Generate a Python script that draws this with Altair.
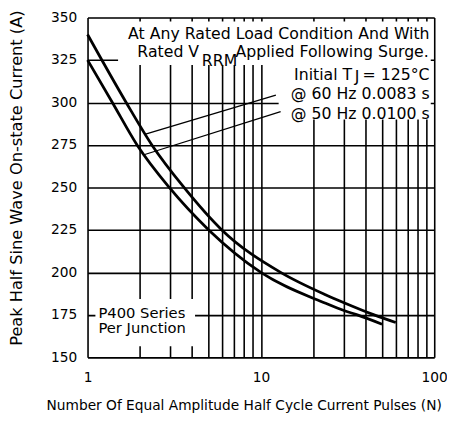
import altair as alt
import pandas as pd

# ---- data ----
pulses_60 = [1, 1.67, 2.35, 3.6, 5.95, 13, 23.4, 30.4, 45, 60]
current_60 = [340, 300, 275, 250, 225, 200, 187, 182, 175, 170.5]
pulses_50 = [1, 1.39, 1.93, 2.96, 5.0, 10, 23.4, 30.4, 36, 50]
current_50 = [325, 300, 275, 250, 225, 200, 182, 177.4, 175, 169.5]

x_grid = [1, 2, 3, 4, 5, 6, 7, 8, 9, 10, 20, 30, 40, 50, 60, 70, 80, 90, 100]
y_ticks = [150, 175, 200, 225, 250, 275, 300, 325, 350]

# annotation boxes (data coordinates)
box_x = [1.50, 12.66, 1.11]
box_x2 = [95.5, 95.5, 4.17]
box_y = [322.0, 290.0, 156.6]
box_y2 = [347.7, 322.0, 184.3]

# pointer lines from curves to labels
ptr_x = [2.16, 2.14]
ptr_y = [281.4, 269.4]
ptr_x2 = [12.2, 13.0]
ptr_y2 = [304.3, 294.6]

# texts (right-aligned anchors)
txt = ["At Any Rated Load Condition And With",
       "Applied Following Surge.", "RRM", "Rated V",
       "= 125°C", "J", "Initial T",
       "@ 60 Hz 0.0083 s", "@ 50 Hz 0.0100 s"]
txt_x = [94.0, 93.0, 7.3, 4.4, 94.0, 37.0, 33.6, 94.0, 94.0]
txt_y = [340.3, 329.4, 324.6, 329.4, 316.3, 315.0, 316.3, 304.9, 293.4]

note_txt = ["P400 Series", "Per Junction"]
note_x = [1.155, 1.155]
note_y = [176.3, 167.0]

FONT = "DejaVu Sans"

curves = pd.DataFrame({
    "pulses": pulses_60 + pulses_50,
    "current": current_60 + current_50,
    "series": ["60 Hz"] * len(pulses_60) + ["50 Hz"] * len(pulses_50),
})

xs = alt.Scale(type="log", domain=[1, 100], nice=False)
ys = alt.Scale(domain=[150, 350], nice=False, zero=False)

base_x = alt.X("pulses:Q", scale=xs, axis=alt.Axis(
    values=x_grid, format="d",
    labelExpr="indexof([1,10,100], datum.value) >= 0 ? datum.label : ''",
    title="Number Of Equal Amplitude Half Cycle Current Pulses (N)",
    grid=True, gridColor="black", gridWidth=1.6, gridOpacity=1,
    ticks=False, domain=False, labelPadding=14, labelFontSize=14,
    labelFont=FONT, labelColor="black", titleFont=FONT, titleFontSize=14,
    titleFontWeight="normal", titleColor="black",
    titleX=159, titleY=49, titleBaseline="middle", labelFlush=False,
))
base_y = alt.Y("current:Q", scale=ys, axis=alt.Axis(
    values=y_ticks, title="Peak Half Sine Wave On-state Current (A)",
    grid=True, gridColor="black", gridWidth=1.6, gridOpacity=1,
    ticks=False, domain=False, labelPadding=11, labelFontSize=14,
    labelFont=FONT, labelColor="black", titleFont=FONT, titleFontSize=16.5,
    titleFontWeight="normal", titleColor="black",
    titleX=-72, titleY=163, titleBaseline="middle", labelFlush=False,
))

lines = alt.Chart(curves).mark_line(
    color="black", strokeWidth=2.8, interpolate="monotone"
).encode(x=base_x, y=base_y, detail="series:N")

boxes = alt.Chart(pd.DataFrame({"x": box_x, "x2": box_x2, "y": box_y, "y2": box_y2})).mark_rect(
    color="white", opacity=1
).encode(
    x=alt.X("x:Q", scale=xs), x2="x2:Q",
    y=alt.Y("y:Q", scale=ys), y2="y2:Q",
)

pointers = alt.Chart(pd.DataFrame({"x": ptr_x, "y": ptr_y, "x2": ptr_x2, "y2": ptr_y2})).mark_rule(
    color="black", strokeWidth=1.3
).encode(
    x=alt.X("x:Q", scale=xs), x2="x2:Q",
    y=alt.Y("y:Q", scale=ys), y2="y2:Q",
)

t_right = alt.Chart(pd.DataFrame({"t": txt, "x": txt_x, "y": txt_y})).mark_text(
    align="right", baseline="middle", font=FONT, fontSize=16, color="black"
).encode(x=alt.X("x:Q", scale=xs), y=alt.Y("y:Q", scale=ys), text="t:N")

t_note = alt.Chart(pd.DataFrame({"t": note_txt, "x": note_x, "y": note_y})).mark_text(
    align="left", baseline="middle", font=FONT, fontSize=15, color="black"
).encode(x=alt.X("x:Q", scale=xs), y=alt.Y("y:Q", scale=ys), text="t:N")

chart = alt.layer(lines, boxes, pointers, t_right, t_note).properties(
    width=353, height=346,
    autosize=alt.AutoSizeParams(type="none"),
    padding={"left": 81, "top": 6, "right": 13, "bottom": 56},
).configure_view(
    stroke="black", strokeWidth=2
).configure(background="white")

chart.save("out.html", embed_options={"renderer": "svg", "actions": False})
